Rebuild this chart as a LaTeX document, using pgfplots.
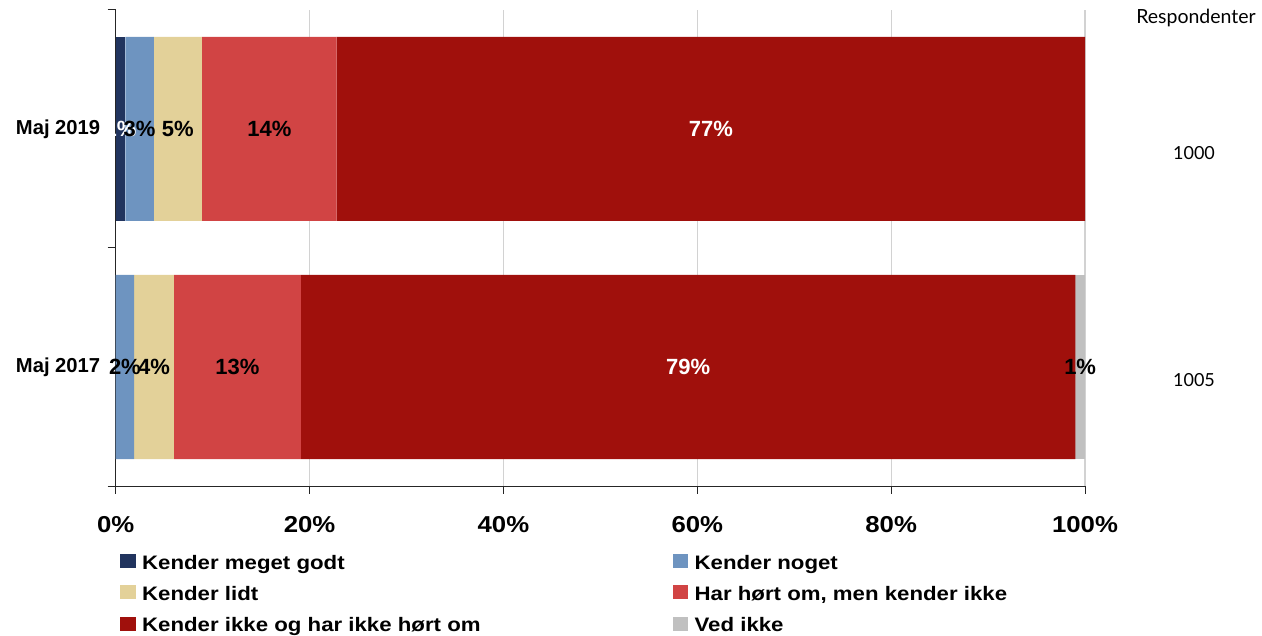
\documentclass[border=0pt]{standalone}
\usepackage{fontspec}
\setmainfont{Liberation Sans}
\newfontfamily\gillfont{Lato}
\newfontfamily\tickfont{Liberation Sans}[FakeStretch=1.12]
\newfontfamily\legfont{Liberation Sans}[FakeStretch=1.14]
\usepackage{pgfplots}
\pgfplotsset{compat=1.18}
\definecolor{cNavy}{RGB}{33,52,94}
\definecolor{cBlue}{RGB}{110,148,192}
\definecolor{cBeige}{RGB}{227,209,153}
\definecolor{cLRed}{RGB}{209,68,68}
\definecolor{cDRed}{RGB}{160,16,12}
\definecolor{cGrey}{RGB}{192,192,192}
\definecolor{cGrid}{RGB}{210,210,210}
\begin{document}
\begin{tikzpicture}
\useasboundingbox (0,0) rectangle (1262bp,636bp);
\begin{axis}[
  at={(115.7bp,150bp)}, anchor=south west,
  width=969.3bp, height=476bp, scale only axis,
  xbar stacked, bar width=184bp,
  xmin=0, xmax=100, ymin=-0.5, ymax=1.5, enlargelimits=false,
  axis lines*=left,
  axis line style={black!85, line width=1bp},
  tick align=outside, major tick length=8bp,
  tick style={black!85, line width=1bp},
  xtick={0,20,40,60,80,100},
  xticklabels={0\%,20\%,40\%,60\%,80\%,100\%},
  xticklabel style={font=\tickfont\fontsize{23bp}{26bp}\selectfont\bfseries, yshift=-19bp},
  xmajorgrids, grid style={cGrid, line width=1.2bp},
  ytick={-0.5,0.5,1.5}, yticklabels={},
  extra y ticks={0,1}, extra y tick labels={Maj 2017,Maj 2019},
  extra y tick style={tick style={draw=none}},
  yticklabel style={font=\fontsize{20.2bp}{24bp}\selectfont\bfseries, xshift=-4bp},
  legend columns=2,
  legend cell align=left,
  legend style={at={(axis description cs:0.0044,-0.1424)}, anchor=north west,
    draw=none, fill=none, inner sep=0pt,
    nodes={inner sep=0pt},
    font=\legfont\fontsize{19.5bp}{23bp}\selectfont\bfseries,
    /tikz/every even column/.append style={column sep=192bp},
    row sep=14.5bp},
  legend image code/.code={\fill[#1,draw=none] (0bp,-5bp) rectangle (15.5bp,9bp); \path (22bp,0bp);},
]
\addplot[fill=cNavy, draw=none] coordinates {(1,1) (0,0)};
\addlegendentry{Kender meget godt}
\addplot[fill=cBlue, draw=none] coordinates {(2.95,1) (1.9,0)};
\addlegendentry{Kender noget}
\addplot[fill=cBeige, draw=none] coordinates {(4.95,1) (4.1,0)};
\addlegendentry{Kender lidt}
\addplot[fill=cLRed, draw=none] coordinates {(13.9,1) (13.1,0)};
\addlegendentry{Har hørt om, men kender ikke}
\addplot[fill=cDRed, draw=none] coordinates {(77.2,1) (79.9,0)};
\addlegendentry{Kender ikke og har ikke hørt om}
\addplot[fill=cGrey, draw=none] coordinates {(0,1) (1,0)};
\addlegendentry{Ved ikke}
\end{axis}
\begin{axis}[
  at={(115.7bp,150bp)}, anchor=south west,
  width=969.3bp, height=476bp, scale only axis,
  xmin=0, xmax=100, ymin=-0.5, ymax=1.5, enlargelimits=false,
  hide axis, clip=false,
  nodes near coords, point meta=explicit symbolic,
  every node near coord/.append style={anchor=center, inner sep=0pt,
    font=\fontsize{22bp}{25bp}\selectfont\bfseries},
]
\addplot[only marks, mark=*, mark size=0pt, mark options={draw=none,fill=none},
  every node near coord/.append style={text=white}]
  coordinates {(0.5,1) [1\%] (61.4,1) [77\%] (59.05,0) [79\%]};
\addplot[only marks, mark=*, mark size=0pt, mark options={draw=none,fill=none},
  every node near coord/.append style={text=black}]
  coordinates {(2.45,1) [3\%] (6.4,1) [5\%] (15.85,1) [14\%]
               (0.95,0) [2\%] (3.95,0) [4\%] (12.55,0) [13\%] (99.5,0) [1\%]};
\end{axis}
\node[font=\gillfont\fontsize{19.5bp}{22bp}\selectfont] at (1196bp,618bp) {Respondenter};
\node[font=\gillfont\fontsize{18bp}{22bp}\selectfont] at (1194bp,483bp) {1000};
\node[font=\gillfont\fontsize{18bp}{22bp}\selectfont] at (1194bp,256bp) {1005};
\end{tikzpicture}
\end{document}
